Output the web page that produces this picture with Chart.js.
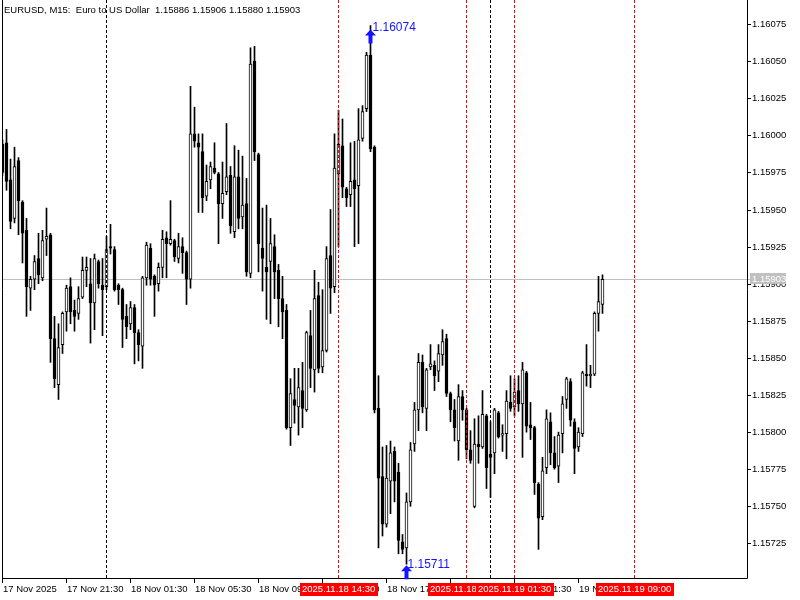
<!DOCTYPE html>
<html>
<head>
<meta charset="utf-8">
<script src="https://cdn.jsdelivr.net/npm/chart.js@4.4.1/dist/chart.umd.min.js"></script>
<style>
html, body { margin: 0; padding: 0; background: #fff; }
canvas { display: block; }
</style>
</head>
<body>
<canvas id="chart" width="800" height="600"></canvas>
<script>
'use strict';

// EURUSD M15 candles, 17 Nov 17:30 .. 19 Nov 05:00
const opens = [
    1.15994,1.15995,1.15970,1.15944,1.15983,1.15955,1.15936,1.15897,1.15903,1.15917,
    1.15904,1.15930,1.15933,1.15863,1.15832,1.15859,1.15881,1.15898,1.15882,1.15880,
    1.15891,1.15909,1.15900,1.15887,1.15915,1.15899,1.15898,1.15925,1.15923,1.15899,
    1.15896,1.15878,1.15873,1.15884,1.15867,1.15858,1.15904,1.15924,1.15905,1.15900,
    1.15911,1.15931,1.15927,1.15929,1.15917,1.15925,1.15921,1.15903,1.16001,1.15995,
    1.15989,1.15959,1.15970,1.15978,1.15974,1.15954,1.15962,1.15973,1.15935,1.15972,
    1.15945,1.15954,1.15907,1.16050,1.15987,1.15924,1.15911,1.15915,1.15925,1.15909,
    1.15890,1.15882,1.15803,1.15822,1.15817,1.15828,1.15815,1.15865,1.15842,1.15892,
    1.15844,1.15855,1.15919,1.15898,1.15974,1.15993,1.15964,1.15960,1.15970,1.15966,
    1.15998,1.16018,1.16054,1.15992,1.15816,1.15770,1.15738,1.15767,1.15787,1.15773,
    1.15726,1.15722,1.15753,1.15792,1.15815,1.15847,1.15816,1.15844,1.15845,1.15841,
    1.15852,1.15863,1.15826,1.15815,1.15794,1.15824,1.15815,1.15788,1.15750,1.15792,
    1.15790,1.15811,1.15785,1.15786,1.15813,1.15798,1.15799,1.15820,1.15817,1.15828,
    1.15819,1.15840,1.15805,1.15803,1.15765,1.15743,1.15776,1.15807,1.15786,1.15777,
    1.15799,1.15822,1.15834,1.15807,1.15790,1.15799,1.15839,1.15838,1.15839,1.15880,
    1.15886
];
const highs = [
    1.15997,1.16004,1.15984,1.15992,1.15985,1.15956,1.15944,1.15905,1.15919,1.15934,
    1.15936,1.15951,1.15934,1.15878,1.15873,1.15881,1.15899,1.15904,1.15889,1.15898,
    1.15918,1.15918,1.15917,1.15920,1.15916,1.15917,1.15932,1.15940,1.15925,1.15900,
    1.15897,1.15886,1.15888,1.15886,1.15869,1.15905,1.15928,1.15927,1.15906,1.15914,
    1.15936,1.15935,1.15956,1.15930,1.15934,1.15931,1.15922,1.16033,1.16019,1.16001,
    1.16001,1.15980,1.15982,1.15995,1.15975,1.15982,1.16008,1.15979,1.15993,1.15990,
    1.15986,1.15971,1.16059,1.16060,1.15988,1.15951,1.15953,1.15944,1.15933,1.15913,
    1.15905,1.15886,1.15836,1.15843,1.15843,1.15847,1.15868,1.15882,1.15909,1.15901,
    1.15896,1.15925,1.15950,1.16001,1.16017,1.16011,1.15965,1.15995,1.15996,1.16018,
    1.16020,1.16056,1.16074,1.15993,1.15838,1.15790,1.15791,1.15794,1.15790,1.15779,
    1.15731,1.15759,1.15793,1.15820,1.15853,1.15852,1.15843,1.15859,1.15848,1.15859,
    1.15869,1.15866,1.15827,1.15822,1.15832,1.15828,1.15816,1.15801,1.15809,1.15811,
    1.15828,1.15812,1.15807,1.15816,1.15814,1.15805,1.15828,1.15838,1.15836,1.15838,
    1.15847,1.15841,1.15820,1.15804,1.15766,1.15783,1.15815,1.15813,1.15797,1.15800,
    1.15824,1.15837,1.15836,1.15809,1.15803,1.15841,1.15859,1.15845,1.15881,1.15905,
    1.15906
];
const lows = [
    1.15973,1.15963,1.15937,1.15941,1.15933,1.15914,1.15878,1.15882,1.15896,1.15900,
    1.15902,1.15919,1.15847,1.15830,1.15822,1.15853,1.15868,1.15873,1.15868,1.15876,
    1.15890,1.15898,1.15860,1.15869,1.15897,1.15865,1.15896,1.15920,1.15895,1.15886,
    1.15857,1.15863,1.15869,1.15846,1.15848,1.15843,1.15899,1.15899,1.15878,1.15895,
    1.15904,1.15904,1.15926,1.15915,1.15914,1.15907,1.15886,1.15897,1.15992,1.15948,
    1.15948,1.15956,1.15964,1.15974,1.15927,1.15944,1.15960,1.15934,1.15931,1.15937,
    1.15937,1.15905,1.15904,1.15983,1.15908,1.15895,1.15876,1.15873,1.15890,1.15871,
    1.15863,1.15802,1.15791,1.15806,1.15798,1.15803,1.15814,1.15830,1.15827,1.15840,
    1.15840,1.15854,1.15880,1.15894,1.15925,1.15958,1.15952,1.15952,1.15925,1.15927,
    1.15996,1.16016,1.15989,1.15813,1.15722,1.15730,1.15736,1.15745,1.15753,1.15718,
    1.15718,1.15711,1.15750,1.15787,1.15801,1.15813,1.15801,1.15842,1.15828,1.15834,
    1.15845,1.15824,1.15807,1.15794,1.15781,1.15808,1.15782,1.15779,1.15749,1.15779,
    1.15789,1.15762,1.15756,1.15772,1.15796,1.15787,1.15782,1.15814,1.15811,1.15814,
    1.15783,1.15800,1.15795,1.15758,1.15721,1.15741,1.15772,1.15778,1.15775,1.15766,
    1.15786,1.15816,1.15804,1.15772,1.15787,1.15797,1.15831,1.15830,1.15838,1.15868,
    1.15880
];
const closes = [
    1.15975,1.15969,1.15942,1.15979,1.15956,1.15934,1.15898,1.15903,1.15915,1.15906,
    1.15929,1.15932,1.15863,1.15836,1.15857,1.15880,1.15897,1.15881,1.15878,1.15890,
    1.15909,1.15911,1.15887,1.15917,1.15900,1.15896,1.15923,1.15924,1.15896,1.15896,
    1.15876,1.15871,1.15884,1.15867,1.15859,1.15904,1.15926,1.15903,1.15899,1.15911,
    1.15930,1.15927,1.15930,1.15918,1.15925,1.15921,1.15903,1.16001,1.15996,1.15992,
    1.15958,1.15969,1.15979,1.15975,1.15954,1.15961,1.15972,1.15939,1.15972,1.15944,
    1.15953,1.15908,1.16048,1.15989,1.15927,1.15917,1.15908,1.15927,1.15908,1.15890,
    1.15881,1.15803,1.15826,1.15818,1.15830,1.15816,1.15867,1.15843,1.15890,1.15843,
    1.15855,1.15917,1.15897,1.15978,1.15994,1.15965,1.15958,1.15969,1.15964,1.15997,
    1.16016,1.16054,1.15991,1.15815,1.15769,1.15738,1.15769,1.15786,1.15767,1.15727,
    1.15721,1.15753,1.15788,1.15815,1.15847,1.15817,1.15842,1.15846,1.15838,1.15853,
    1.15861,1.15826,1.15815,1.15803,1.15824,1.15815,1.15788,1.15781,1.15792,1.15790,
    1.15812,1.15776,1.15783,1.15815,1.15797,1.15799,1.15821,1.15816,1.15827,1.15819,
    1.15842,1.15804,1.15803,1.15766,1.15742,1.15774,1.15809,1.15786,1.15776,1.15798,
    1.15819,1.15836,1.15808,1.15789,1.15800,1.15840,1.15838,1.15839,1.15880,1.15888,
    1.15903
];

const price_ticks = [1.15725, 1.15750, 1.15775, 1.15800, 1.15825, 1.15850, 1.15875,
    1.15900, 1.15925, 1.15950, 1.15975, 1.16000, 1.16025, 1.16050, 1.16075];
const time_tick_index = [0, 16, 32, 48, 64, 80, 96, 112, 128, 144];
const time_tick_labels = ['17 Nov 2025', '17 Nov 21:30', '18 Nov 01:30', '18 Nov 05:30', '18 Nov 09:30',
    '18 Nov 13:30', '18 Nov 17:30', '18 Nov 21:30', '19 Nov 01:30', '19 Nov 05:30'];
const separator_index = [26, 122];
const event_index = [84, 116, 128, 158];
const event_labels = ['2025.11.18 14:30', '2025.11.18 22:30', '2025.11.19 01:30', '2025.11.19 09:00'];
const high_index = 92;
const low_index = 101;
const bid_price = 1.15903;
const header_text = 'EURUSD, M15:  Euro to US Dollar  1.15886 1.15906 1.15880 1.15903';

const font_small = '9.5px "Liberation Sans", Arial, sans-serif';
const font_mark = '12px "Liberation Sans", Arial, sans-serif';

var body_data = [], wick_data = [], body_colors = [];
for( var i = 0 ; i < opens.length ; i++ ){
    body_data.push({ x: i, y: [opens[i], closes[i]] });
    wick_data.push({ x: i, y: [lows[i], highs[i]] });
    body_colors.push(closes[i] >= opens[i] ? '#ffffff' : '#000000');
}

function draw_arrow(ctx, x, tip){
    ctx.fillStyle = '#1414ff';
    ctx.beginPath();
    ctx.moveTo(x, tip);
    ctx.lineTo(x + 5.5, tip + 6);
    ctx.lineTo(x + 2, tip + 6);
    ctx.lineTo(x + 2, tip + 14);
    ctx.lineTo(x - 2, tip + 14);
    ctx.lineTo(x - 2, tip + 6);
    ctx.lineTo(x - 5.5, tip + 6);
    ctx.closePath();
    ctx.fill();
}

const mt_overlay = {
    id: 'mt_overlay',
    beforeDatasetsDraw: function(chart){
        var ctx = chart.ctx, area = chart.chartArea;
        var y = Math.round(chart.scales.y.getPixelForValue(bid_price)) + 0.5;
        ctx.save();
        ctx.strokeStyle = '#c0c0c0';
        ctx.lineWidth = 1;
        ctx.beginPath();
        ctx.moveTo(area.left, y);
        ctx.lineTo(area.right + 3, y);
        ctx.stroke();
        ctx.restore();
    },
    afterDraw: function(chart){
        var ctx = chart.ctx, area = chart.chartArea;
        var xs = chart.scales.x, ys = chart.scales.y;
        ctx.save();
        ctx.lineWidth = 1;

        // period separators and event lines
        ctx.setLineDash([3, 2]);
        ctx.strokeStyle = '#000000';
        for( let idx of separator_index ){
            var x = Math.floor(xs.getPixelForValue(idx)) + 0.5;
            ctx.beginPath(); ctx.moveTo(x, area.top); ctx.lineTo(x, area.bottom); ctx.stroke();
        }
        ctx.strokeStyle = '#ff0000';
        for( let idx of event_index ){
            var x = Math.floor(xs.getPixelForValue(idx)) + 0.5;
            ctx.beginPath(); ctx.moveTo(x, area.top); ctx.lineTo(x, area.bottom); ctx.stroke();
        }
        ctx.setLineDash([]);

        // frame
        ctx.strokeStyle = '#000000';
        ctx.beginPath();
        ctx.moveTo(area.left - 0.5, area.top);
        ctx.lineTo(area.left - 0.5, area.bottom + 0.5);
        ctx.lineTo(area.right + 0.5, area.bottom + 0.5);
        ctx.lineTo(area.right + 0.5, area.top);
        ctx.stroke();

        // price axis
        ctx.font = font_small;
        ctx.textBaseline = 'middle';
        ctx.textAlign = 'left';
        ctx.fillStyle = '#000000';
        for( let p of price_ticks ){
            var y = Math.round(ys.getPixelForValue(p)) + 0.5;
            ctx.beginPath(); ctx.moveTo(area.right, y); ctx.lineTo(area.right + 4, y); ctx.stroke();
            ctx.fillText(p.toFixed(5), area.right + 5, y);
        }
        var by = Math.round(ys.getPixelForValue(bid_price));
        ctx.fillStyle = '#c0c0c0';
        ctx.fillRect(area.right + 3, by - 6, 36, 11);
        ctx.fillStyle = '#ffffff';
        ctx.fillText(bid_price.toFixed(5), area.right + 5, by);

        // time axis
        ctx.fillStyle = '#000000';
        for( var k = 0 ; k < time_tick_index.length ; k++ ){
            var x = Math.floor(xs.getPixelForValue(time_tick_index[k])) + 0.5;
            ctx.beginPath(); ctx.moveTo(x, area.bottom); ctx.lineTo(x, area.bottom + 5); ctx.stroke();
            ctx.fillText(time_tick_labels[k], x + 0.5, area.bottom + 11);
        }
        for( var k = 0 ; k < event_index.length ; k++ ){
            var x = Math.floor(xs.getPixelForValue(event_index[k])) + 0.5;
            var w = Math.ceil(ctx.measureText(event_labels[k]).width) + 4;
            ctx.fillStyle = '#ff0000';
            ctx.fillRect(Math.round(x - w / 2), area.bottom + 5, w, 13);
            ctx.fillStyle = '#ffffff';
            ctx.fillText(event_labels[k], Math.round(x - w / 2) + 2, area.bottom + 11.5);
        }

        // header
        ctx.fillStyle = '#000000';
        ctx.fillText(header_text, 4, 10);

        // highest / lowest marks
        ctx.font = font_mark;
        ctx.textBaseline = 'alphabetic';
        var hx = xs.getPixelForValue(high_index), hy = ys.getPixelForValue(highs[high_index]);
        draw_arrow(ctx, hx, hy + 4);
        ctx.fillStyle = '#1414ff';
        ctx.fillText(highs[high_index].toFixed(5), hx + 2, hy + 5);
        var lx = xs.getPixelForValue(low_index), ly = ys.getPixelForValue(lows[low_index]);
        draw_arrow(ctx, lx, ly + 1);
        ctx.fillStyle = '#1414ff';
        ctx.fillText(lows[low_index].toFixed(5), lx + 1, ly + 4);

        ctx.restore();
    }
};

window.chart = new Chart(document.getElementById('chart').getContext('2d'), {
    type: 'bar',
    data: {
        datasets: [
            {
                data: body_data,
                backgroundColor: body_colors,
                borderColor: '#000000',
                borderWidth: 1,
                borderSkipped: false,
                barThickness: 3,
                minBarLength: 1,
                grouped: false,
            },
            {
                data: wick_data,
                backgroundColor: '#000000',
                borderWidth: 0,
                barThickness: 1,
                grouped: false,
            },
        ],
    },
    options: {
        responsive: false,
        animation: false,
        events: [],
        layout: { padding: { left: 3, right: 53, top: 0, bottom: 22 } },
        scales: {
            x: { type: 'linear', display: false, offset: false, min: 0.125, max: 186.125 },
            y: { display: false, min: 1.157017, max: 1.160912 },
        },
        plugins: {
            legend: { display: false },
            tooltip: { enabled: false },
        },
    },
    plugins: [mt_overlay],
});
</script>
</body>
</html>
